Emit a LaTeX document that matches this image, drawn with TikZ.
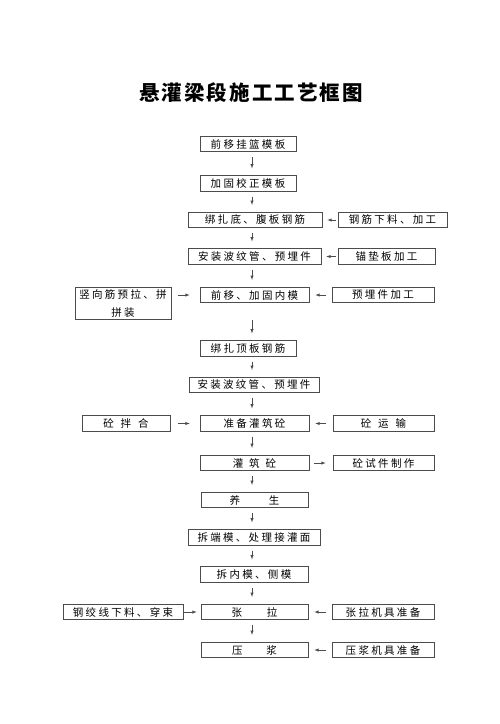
\documentclass[tikz,border=0pt]{standalone}
\usepackage{fontspec}
\newfontfamily\hei[LetterSpace=22]{Noto Sans CJK SC}
\newfontfamily\heib[LetterSpace=10]{Noto Sans CJK SC}
\begin{document}
\begin{tikzpicture}[x=1pt,y=-1pt,>=latex,
    box/.style={draw=black!70,line width=.6pt,minimum height=15.5pt,inner sep=0pt,
        font=\hei\fontsize{10.5}{12}\selectfont},
    arr/.style={->,draw=black!70,line width=.5pt,shorten <=5pt,shorten >=7pt}]
\useasboundingbox (0,0) rectangle (500,724);
\coordinate (mid) at (252,0);
\node[font=\heib\bfseries\fontsize{20.5}{24}\selectfont] (title) at (251,93) {悬灌梁段施工工艺框图};

% main line
\node[box,minimum width=96pt] (qyml) at (248,144) {前移挂篮模板};
\node[box,minimum width=96pt] (jgjz) at (248,183.5) {加固校正模板};
\node[box,minimum width=134pt] (bzdf) at (255,220) {绑扎底、腹板钢筋};
\node[box,minimum width=133pt] (azbw) at (254.5,256.5) {安装波纹管、预埋件};
\node[box,minimum width=109pt] (qyjg) at (254.5,295) {前移、加固内模};
\node[box,minimum width=96pt] (bzdb) at (248,348.5) {绑扎顶板钢筋};
\node[box,minimum width=130pt] (azbw2) at (254,385) {安装波纹管、预埋件};
\node[box,minimum width=109pt] (zbgz) at (254.5,423.5) {准备灌筑砼};
\node[box,minimum width=109pt] (gzt) at (254.5,463) {灌\hspace{6pt}筑\hspace{6pt}砼};
\node[box,minimum width=107pt] (ys) at (254.5,500) {养\hspace{29pt}生};
\node[box,minimum width=132pt] (cdm) at (254,537.5) {拆端模、处理接灌面};
\node[box,minimum width=108pt] (cnm) at (254,574.5) {拆内模、侧模};
\node[box,minimum width=107pt] (zl) at (254.5,612) {张\hspace{25pt}拉};
\node[box,minimum width=107pt] (yj) at (254.5,650) {压\hspace{24pt}浆};

% side boxes
\node[box,minimum width=109pt] (gjxl) at (392.5,220) {钢筋下料、加工};
\node[box,minimum width=97pt] (mdb) at (386.5,256.5) {锚垫板加工};
\node[box,minimum width=96pt,minimum height=32pt,align=center,
    font=\hei\fontsize{10.5}{18}\selectfont] (sxj) at (123,303) {竖向筋预拉、拼\\拼装};
\node[box,minimum width=102pt] (ymj) at (383,295) {预埋件加工};
\node[box,minimum width=88pt] (tbh) at (126,423.5) {砼\hspace{7pt}拌\hspace{7pt}合};
\node[box,minimum width=101pt] (tys) at (383.5,423.5) {砼\hspace{7pt}运\hspace{7pt}输};
\node[box,minimum width=101pt] (tsj) at (383.5,463) {砼试件制作};
\node[box,minimum width=120pt] (gjx) at (123,612) {钢绞线下料、穿束};
\node[box,minimum width=102pt] (zljj) at (383,612) {张拉机具准备};
\node[box,minimum width=102pt] (yjjj) at (383,650) {压浆机具准备};

% arrows
\foreach \a/\b in {qyml/jgjz,jgjz/bzdf,bzdf/azbw,azbw/qyjg,bzdb/azbw2,azbw2/zbgz,
    zbgz/gzt,gzt/ys,ys/cdm,cdm/cnm,cnm/zl,zl/yj}
    \draw[arr] (\a.south -| mid) -- (\b.north -| mid);
\draw[arr,shorten <=17pt] (qyjg.south -| mid) -- (bzdb.north -| mid);
\foreach \a/\b/\s/\e in {gjxl/bzdf/2/5,mdb/azbw/2/5,ymj/qyjg/6/6,tbh/zbgz/8/10,
    tys/zbgz/7/6,gzt/tsj/5/7,gjx/zl/1/4,zljj/zl/6/6,yjjj/yj/6/6}
    \draw[arr,shorten <=\s pt,shorten >=\e pt] (\a) -- (\b);
\draw[arr,shorten <=7pt,shorten >=10pt] (sxj.east |- qyjg.west) -- (qyjg.west);
\end{tikzpicture}
\end{document}
